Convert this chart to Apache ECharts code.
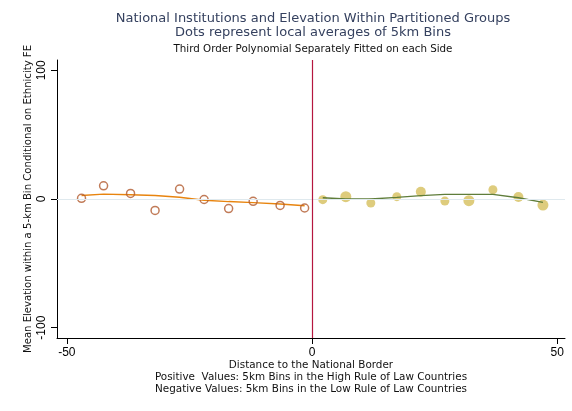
<!DOCTYPE html>
<html><head><meta charset="utf-8">
<script src="https://cdn.jsdelivr.net/npm/echarts@6/dist/echarts.min.js"></script>
<style>html,body{margin:0;padding:0;background:#fff}#c{width:572px;height:411px}</style>
</head><body><div id="c"></div>
<script>
// Left side (low rule of law): bin distance, mean elevation, fitted value
const leftX   = [-47, -42.5, -37, -32, -27, -22, -17, -12, -6.5, -1.5];
const leftY   = [0.5, 10.2, 4.3, -8.9, 7.7, -0.4, -7.4, -1.8, -5.0, -7.0];
const leftFit = [2.7, 3.8, 3.3, 2.7, 1.4, -1.0, -2.0, -2.8, -3.9, -5.2];
// Right side (high rule of law)
const rightX    = [2.2, 6.9, 12, 17.3, 22.2, 27.1, 32, 36.9, 42.1, 47.1];
const rightY    = [-0.5, 1.8, -3.1, 1.8, 5.7, -1.6, -1.3, 7.2, 1.5, -4.7];
const rightFit  = [1.0, 0.0, 0.0, 1.3, 2.6, 3.6, 3.6, 3.6, 1.0, -2.6];
const rightSize = [9, 11, 9, 9, 10, 9, 11, 9, 10, 11];
const xTicks = [-50, 0, 50];
const yTicks = [-100, 0, 100];

const FONT = 'Liberation Sans';
const WIDE = 'DejaVu Sans';
const chart = echarts.init(document.getElementById('c'), null, {renderer:'canvas'});
const zip = (a,b) => a.map((v,i)=>[v,b[i]]);
chart.setOption({
  animation:false,
  textStyle:{fontFamily:FONT},
  title:[
    {text:'National Institutions and Elevation Within Partitioned Groups\nDots represent local averages of 5km Bins',
     left:313, top:12, padding:0, textAlign:'center',
     textStyle:{fontFamily:WIDE,fontSize:13,fontWeight:'normal',color:'#35415f',lineHeight:14}},
    {text:'Third Order Polynomial Separately Fitted on each Side',
     left:313, top:43, padding:0, textAlign:'center',
     textStyle:{fontFamily:WIDE,fontSize:10.3,fontWeight:'normal',color:'#111',lineHeight:12}}
  ],
  grid:{left:57,right:7,top:60,bottom:73},
  xAxis:{type:'value',min:-52,max:51.6,
    axisLine:{onZero:false,lineStyle:{color:'#000',width:1}},
    axisTick:{show:true,length:6,customValues:xTicks,lineStyle:{color:'#000'}},
    axisLabel:{customValues:xTicks,fontSize:12,color:'#000',margin:9},
    splitLine:{show:false},
    name:'Distance to the National Border\nPositive  Values: 5km Bins in the High Rule of Law Countries\nNegative Values: 5km Bins in the Low Rule of Law Countries',
    nameLocation:'middle',nameGap:21,nameMoveOverlap:false,
    nameTextStyle:{fontFamily:WIDE,fontSize:10.4,color:'#111',lineHeight:12.3,verticalAlign:'top'}
  },
  yAxis:{type:'value',min:-108,max:108,
    axisLine:{show:true,onZero:false,lineStyle:{color:'#000',width:1}},
    axisTick:{show:true,length:6,customValues:yTicks,lineStyle:{color:'#000'}},
    axisLabel:{customValues:yTicks,fontSize:12,color:'#000',rotate:90,margin:9},
    splitLine:{show:false},
    name:'Mean Elevation within a 5-km Bin Conditional on Ethnicity FE',
    nameLocation:'middle',nameGap:24,nameMoveOverlap:false,
    nameTextStyle:{fontFamily:WIDE,fontSize:10.1,color:'#111'}
  },
  series:[
    {type:'line',data:zip(leftX,leftFit),
     showSymbol:false,lineStyle:{color:'#e8840e',width:1.4},z:3,
     markLine:{silent:true,symbol:'none',label:{show:false},
       data:[{yAxis:0,lineStyle:{color:'#dfe9ee',width:1,type:'solid'}}]}},
    {type:'line',data:zip(rightX,rightFit),showSymbol:false,
     lineStyle:{color:'#5f7d3a',width:1.4},z:3,
     markLine:{silent:true,symbol:'none',label:{show:false},
       data:[{xAxis:0,lineStyle:{color:'#b5173f',width:1.2,type:'solid'}}]}},
    {type:'scatter',data:zip(leftX,leftY),symbol:'circle',symbolSize:8,
     itemStyle:{color:'rgba(255,255,255,0)',borderColor:'#b25a2e',borderWidth:1.5},z:4},
    {type:'scatter',data:zip(rightX,rightY).map((p,i)=>({value:p,symbolSize:rightSize[i]})),
     symbol:'circle',itemStyle:{color:'#d6bf5c'},z:2}
  ]
});
</script></body></html>
